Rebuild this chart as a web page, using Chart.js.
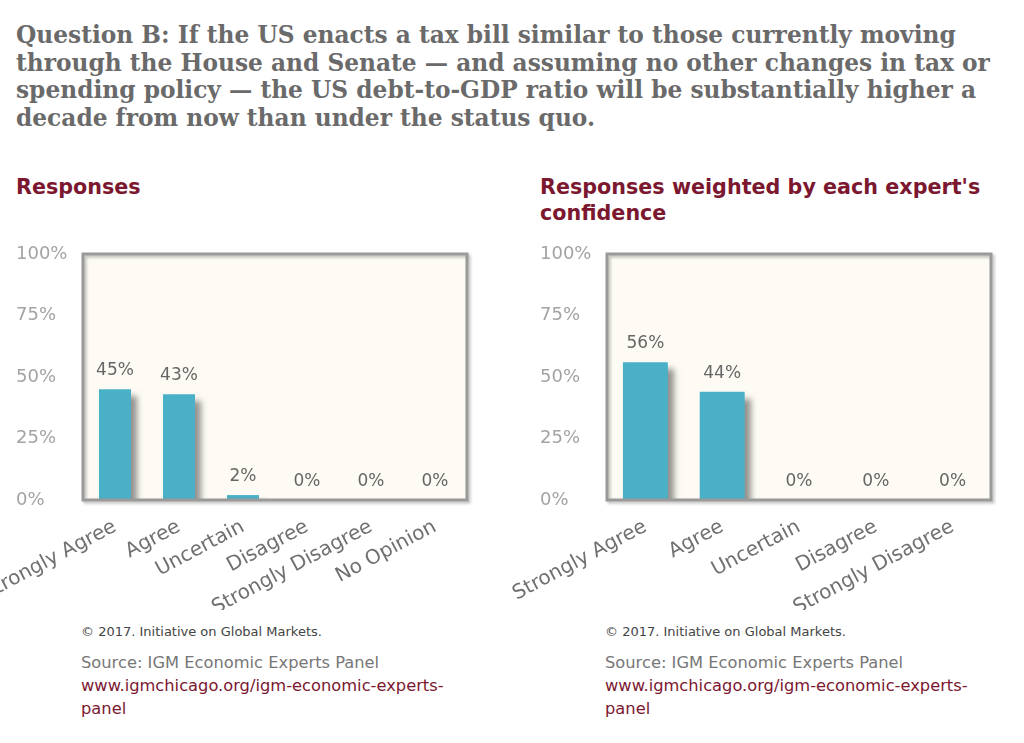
<!DOCTYPE html>
<html><head><meta charset="utf-8">
<script src="https://cdn.jsdelivr.net/npm/chart.js@4"></script>
<style>
html,body{margin:0;padding:0;background:#fff;overflow:hidden;width:1024px;height:743px;position:relative}
#title{position:absolute;left:16px;top:21px;font:bold 23.3px "DejaVu Serif";color:#6a6a6a;line-height:27.7px;white-space:nowrap}
.sub{position:absolute;font:bold 20.7px "DejaVu Sans";color:#7b1830;line-height:26px;white-space:nowrap}
canvas{position:absolute}
.copy{position:absolute;font:13px "DejaVu Sans";color:#444;white-space:nowrap}
.src{position:absolute;font:16.3px "DejaVu Sans";color:#777;line-height:23px;white-space:nowrap}
.src a{color:#7b1830;text-decoration:none}
</style>
</head><body>
<div id="title">Question B: If the US enacts a tax bill similar to those currently moving<br>through the House and Senate — and assuming no other changes in tax or<br>spending policy — the US debt-to-GDP ratio will be substantially higher a<br>decade from now than under the status quo.</div>
<div class="sub" style="left:16px;top:174px">Responses</div>
<div class="sub" style="left:540px;top:174px">Responses weighted by each expert's<br>confidence</div>
<canvas id="c1" width="540" height="370" style="left:-60px;top:240px"></canvas>
<canvas id="c2" width="544" height="370" style="left:480px;top:240px"></canvas>
<div class="copy" style="left:81px;top:624px">© 2017. Initiative on Global Markets.</div>
<div class="src" style="left:81px;top:651px">Source: IGM Economic Experts Panel<br><a>www.igmchicago.org/igm-economic-experts-<br>panel</a></div>
<div class="copy" style="left:605px;top:624px">© 2017. Initiative on Global Markets.</div>
<div class="src" style="left:605px;top:651px">Source: IGM Economic Experts Panel<br><a>www.igmchicago.org/igm-economic-experts-<br>panel</a></div>
<script>
const categoriesLeft = ['Strongly Agree','Agree','Uncertain','Disagree','Strongly Disagree','No Opinion'];
const responses = [45,43,2,0,0,0];
const categoriesRight = ['Strongly Agree','Agree','Uncertain','Disagree','Strongly Disagree'];
const weightedResponses = [56,44,0,0,0];
const yTickValues = [0,25,50,75,100];

const BAR = '#4ab0c7';

const boxPlugin = {
  id: 'boxPlugin',
  beforeDatasetsDraw(chart) {
    const {ctx, chartArea: a} = chart;
    ctx.save();
    ctx.fillStyle = '#fdfbf4';
    ctx.fillRect(a.left, a.top, a.width, a.height);
    ctx.restore();
    ctx.save();
    ctx.shadowColor = 'rgba(60,60,60,0.55)';
    ctx.shadowOffsetX = 6;
    ctx.shadowOffsetY = 7;
    ctx.shadowBlur = 6;
  },
  afterDatasetsDraw(chart) {
    const {ctx, chartArea: a} = chart;
    ctx.restore();
    ctx.save();
    ctx.shadowColor = 'rgba(0,0,0,0.25)';
    ctx.shadowOffsetX = 2;
    ctx.shadowOffsetY = 2;
    ctx.shadowBlur = 3;
    ctx.strokeStyle = '#9a9a9a';
    ctx.lineWidth = 3;
    ctx.strokeRect(a.left, a.top, a.width, a.height);
    ctx.restore();
    ctx.save();
    ctx.fillStyle = '#666';
    ctx.font = '17px "DejaVu Sans"';
    ctx.textAlign = 'center';
    ctx.textBaseline = 'alphabetic';
    const meta = chart.getDatasetMeta(0);
    const data = chart.data.datasets[0].data;
    meta.data.forEach((bar, i) => {
      ctx.fillText(data[i] + '%', bar.x, bar.y - 14);
    });
    ctx.restore();
  }
};

function makeChart(id, labels, values, padLeft, padRight, barPct) {
  return new Chart(document.getElementById(id), {
    type: 'bar',
    data: {labels, datasets: [{data: values, backgroundColor: BAR, borderWidth: 0,
      barPercentage: barPct, categoryPercentage: 1}]},
    options: {
      responsive: false, animation: false, devicePixelRatio: 1,
      layout: {padding: {left: padLeft, right: padRight, top: 14, bottom: 0}},
      plugins: {legend: {display: false}, tooltip: {enabled: false}},
      scales: {
        x: {
          grid: {display: false, drawTicks: false}, border: {display: false},
          ticks: {color: '#707070', font: {family: 'DejaVu Sans', size: 20},
            minRotation: 28, maxRotation: 28, padding: 15, autoSkip: false},
          afterFit: s => { s.height = 110; }
        },
        y: {
          min: 0, max: 100,
          grid: {display: false, drawTicks: false}, border: {display: false},
          afterBuildTicks: s => { s.ticks = yTickValues.map(v => ({value: v})); },
          ticks: {color: '#a3a3a3', font: {family: 'DejaVu Sans', size: 18},
            crossAlign: 'far', padding: 0, callback: v => v + '%'},
          afterFit: s => { s.width = 67; }
        }
      }
    },
    plugins: [boxPlugin]
  });
}

makeChart('c1', categoriesLeft, responses, 76, 13, 0.5);
makeChart('c2', categoriesRight, weightedResponses, 60, 33, 0.585);
</script>
</body></html>
